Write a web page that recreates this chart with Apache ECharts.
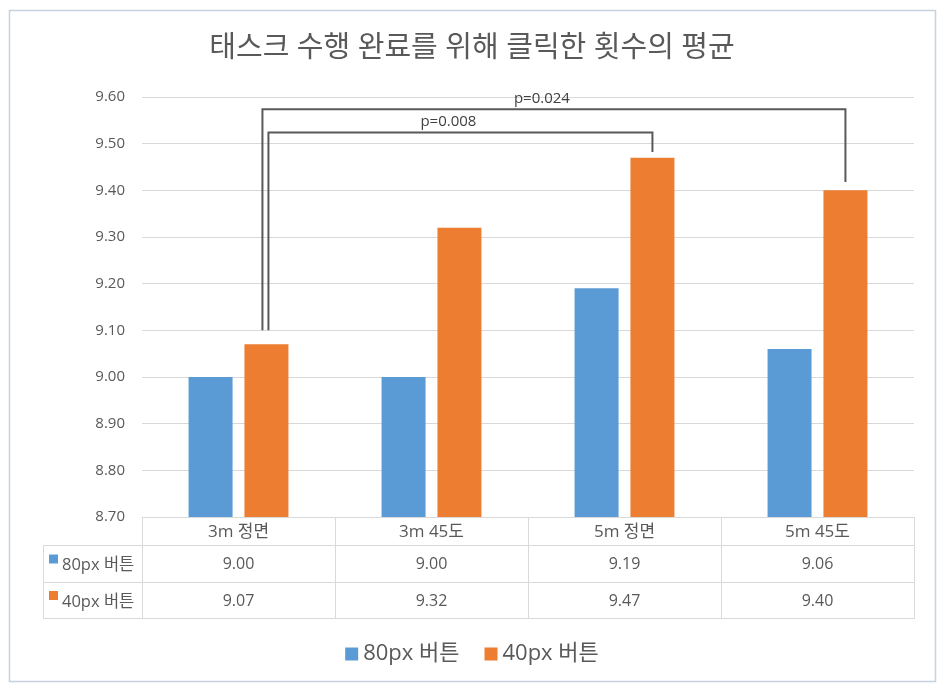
<!DOCTYPE html>
<html>
<head>
<meta charset="utf-8">
<script src="https://cdn.jsdelivr.net/npm/echarts@6/dist/echarts.min.js"></script>
<style>
html,body{margin:0;padding:0;background:#fff;}
#c{width:944px;height:690px;}
</style>
</head>
<body>
<div id="c"></div>
<script>
// ---- data ----
const titleText = '태스크 수행 완료를 위해 클릭한 횟수의 평균';
const categories = ['3m 정면', '3m 45도', '5m 정면', '5m 45도'];
const seriesNames = ['80px 버튼', '40px 버튼'];
const values80 = [9.00, 9.00, 9.19, 9.06];
const values40 = [9.07, 9.32, 9.47, 9.40];
const yMin = 8.7, yMax = 9.6, yStep = 0.1;
// significance brackets (category index from/to, value of top line, ends)
const bracketLabels = ['p=0.008', 'p=0.024'];
const bracketFrom = [0, 0];
const bracketTo = [2, 3];
const bracketTop = [9.524, 9.574];
const bracketLeftEnd = [9.10, 9.10];
const bracketRightEnd = [9.482, 9.418];

// ---- style ----
const FONT = "'Open Sans','Noto Sans CJK KR',sans-serif";
const TXT = '#595959';
const LINE = '#d9d9d9';
const COLORS = ['#5b9bd5', '#ed7d31'];
const BAR_W = 44, BAR_GAP_PCT = 27;
const pairOffset = (BAR_W + BAR_W * BAR_GAP_PCT / 100) / 2;

const chart = echarts.init(document.getElementById('c'));

const bracketData = bracketLabels.map((l, i) => [bracketFrom[i], bracketTo[i], bracketTop[i], bracketLeftEnd[i], bracketRightEnd[i]]);

const option = {
  backgroundColor: '#ffffff',
  animation: false,
  color: COLORS,
  title: {
    text: titleText, left: 'center', top: 29,
    textStyle: { fontFamily: FONT, fontSize: 29, fontWeight: 'normal', color: TXT }
  },
  legend: {
    data: seriesNames, left: 'center', top: 638, icon: 'rect',
    itemWidth: 13, itemHeight: 13, itemGap: 25,
    textStyle: { fontFamily: FONT, fontSize: 22, color: TXT }
  },
  grid: { left: 142, right: 30, top: 97, bottom: 173 },
  xAxis: {
    type: 'category', data: categories,
    axisLine: { lineStyle: { color: LINE } },
    axisTick: { show: false }, axisLabel: { show: false }
  },
  yAxis: {
    type: 'value', min: yMin, max: yMax, interval: yStep,
    axisLine: { show: false }, axisTick: { show: false },
    axisLabel: { formatter: v => v.toFixed(2), fontFamily: FONT, fontSize: 15, color: TXT, margin: 17 },
    splitLine: { lineStyle: { color: LINE, width: 1 } }
  },
  series: [
    { name: seriesNames[0], type: 'bar', data: values80, barWidth: BAR_W, barGap: BAR_GAP_PCT + '%', itemStyle: { color: COLORS[0] } },
    { name: seriesNames[1], type: 'bar', data: values40, barWidth: BAR_W, barGap: BAR_GAP_PCT + '%', itemStyle: { color: COLORS[1] } },
    {
      type: 'custom', data: bracketData, clip: false, silent: true,
      encode: { x: [0, 1], y: [2, 3, 4] },
      renderItem: function (params, api) {
        const from = api.value(0), to = api.value(1);
        const top = api.value(2), le = api.value(3), re = api.value(4);
        const nudge = params.dataIndex === 0 ? 2 : -4;
        const pTopL = api.coord([from, top]);
        const pTopR = api.coord([to, top]);
        const xL = pTopL[0] + pairOffset + nudge;
        const xR = pTopR[0] + pairOffset;
        const yT = pTopL[1];
        const yLE = api.coord([from, le])[1];
        const yRE = api.coord([to, re])[1];
        return {
          type: 'group',
          children: [
            { type: 'polyline', shape: { points: [[xL, yLE], [xL, yT], [xR, yT], [xR, yRE]] },
              style: { stroke: '#595959', lineWidth: 2, fill: null } },
            { type: 'text', style: { text: bracketLabels[params.dataIndex], x: (xL + xR) / 2 - 12, y: yT - 3,
              align: 'center', verticalAlign: 'bottom', font: '15px ' + FONT, fill: '#404040' } }
          ]
        };
      }
    }
  ]
};
chart.setOption(option);

function buildTable() {
  const centers = categories.map((c, i) => chart.convertToPixel({ xAxisIndex: 0 }, i));
  const band = centers[1] - centers[0];
  const x0 = centers[0] - band / 2;
  const xEnd = centers[centers.length - 1] + band / 2;
  const yA = chart.convertToPixel({ yAxisIndex: 0 }, yMin);
  const y1 = yA + 28, y2 = y1 + 37, y3 = y2 + 36;
  const xLeft = x0 - 99;
  const els = [];
  const line = (xa, ya, xb, yb) => els.push({ type: 'line', silent: true,
    shape: { x1: Math.round(xa) + 0.5, y1: Math.round(ya) + 0.5, x2: Math.round(xb) + 0.5, y2: Math.round(yb) + 0.5 },
    style: { stroke: LINE, lineWidth: 1 } });
  line(x0, yA, xEnd, yA);
  [y1, y2, y3].forEach(y => line(xLeft, y, xEnd, y));
  line(xLeft, y1, xLeft, y3);
  for (let k = 0; k <= categories.length; k++) line(x0 + k * band, yA, x0 + k * band, y3);
  const txt = (s, x, y, size, align) => els.push({ type: 'text', silent: true,
    style: { text: s, x: x, y: y, align: align || 'center', verticalAlign: 'middle', font: size + 'px ' + FONT, fill: TXT } });
  categories.forEach((c, i) => txt(c, centers[i], (yA + y1) / 2 + 1, 17));
  const rows = [values80, values40];
  const rowY = [[y1, y2], [y2, y3]];
  rows.forEach((vals, r) => {
    const cy = (rowY[r][0] + rowY[r][1]) / 2 + 1;
    vals.forEach((v, i) => txt(v.toFixed(2), centers[i], cy, 16));
    els.push({ type: 'rect', silent: true, shape: { x: xLeft + 6, y: cy - 10, width: 9, height: 9 }, style: { fill: COLORS[r] } });
    txt(seriesNames[r], xLeft + 19, cy + 1, 16.5, 'left');
  });
  // outer chart border
  els.push({ type: 'rect', silent: true, z: -1, shape: { x: 9.5, y: 10.5, width: 926, height: 671 },
    style: { fill: null, stroke: '#c8d2de', lineWidth: 1.5 } });
  chart.setOption({ graphic: { elements: els } });
}
buildTable();
</script>
</body>
</html>
